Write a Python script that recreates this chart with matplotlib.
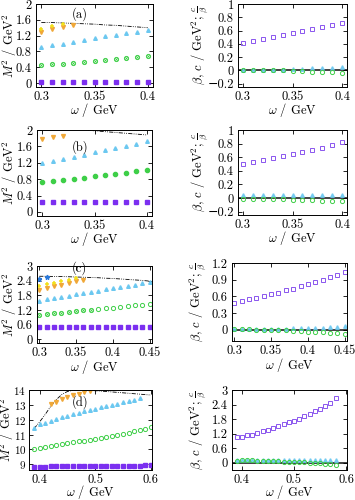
import matplotlib
matplotlib.use("Agg")
import matplotlib.pyplot as plt
import numpy as np

plt.rcParams['font.family'] = 'serif'
plt.rcParams['font.serif'] = ['cmr10', 'DejaVu Serif']
plt.rcParams['mathtext.fontset'] = 'cm'
plt.rcParams['axes.formatter.use_mathtext'] = True
plt.rcParams['axes.unicode_minus'] = False
plt.rcParams['font.size'] = 9

FS = 9

# ---------------- data ----------------
# panel (a)
w_a = [0.30, 0.31, 0.32, 0.33, 0.34, 0.35, 0.36, 0.37, 0.38, 0.39, 0.40]
sq_a = [0.03, 0.03, 0.03, 0.03, 0.03, 0.03, 0.03, 0.03, 0.03, 0.03, 0.03]
circ_a = [0.45, 0.47, 0.49, 0.51, 0.53, 0.56, 0.58, 0.61, 0.63, 0.66, 0.69]
tri_a = [0.90, 0.95, 1.00, 1.05, 1.10, 1.14, 1.18, 1.22, 1.26, 1.30, 1.34]
w_a_org = [0.30, 0.31, 0.32, 0.33]
org_a = [1.30, 1.36, 1.41, 1.46]
w_a_yel = [0.30, 0.31, 0.32]
yel_a = [1.37, 1.44, 1.49]
line_a = [1.53, 1.53, 1.52, 1.51, 1.50, 1.49, 1.47, 1.46, 1.44, 1.42, 1.40]
beta_a = [0.42, 0.45, 0.48, 0.50, 0.53, 0.56, 0.59, 0.62, 0.65, 0.68, 0.72]
tc_a = [0.01, 0.01, 0.01, 0.01, 0.01, 0.02, 0.02, 0.03, 0.03, 0.04, 0.05]
gc_a = [0.01, 0.01, 0.01, 0.00, 0.00, -0.01, -0.01, -0.02, -0.02, -0.03, -0.04]

# panel (b)
w_b = [0.30, 0.31, 0.32, 0.33, 0.34, 0.35, 0.36, 0.37, 0.38, 0.39, 0.40]
sq_b = [0.25, 0.25, 0.25, 0.25, 0.25, 0.25, 0.25, 0.25, 0.25, 0.25, 0.25]
circ_b = [0.73, 0.76, 0.79, 0.81, 0.84, 0.87, 0.90, 0.93, 0.96, 0.99, 1.02]
tri_b = [1.19, 1.25, 1.30, 1.35, 1.40, 1.46, 1.51, 1.56, 1.62, 1.67, 1.72]
w_b_org = [0.30, 0.31, 0.32]
org_b = [1.78, 1.83, 1.86]
line_b = [2.07, 2.06, 2.05, 2.03, 2.01, 1.98, 1.96, 1.94, 1.92, 1.90, 1.88]
beta_b = [0.50, 0.53, 0.56, 0.59, 0.62, 0.65, 0.68, 0.71, 0.74, 0.78, 0.82]
tc_b = [0.05, 0.05, 0.05, 0.05, 0.05, 0.05, 0.05, 0.05, 0.05, 0.05, 0.05]
gc_b = [-0.02, -0.02, -0.02, -0.02, -0.02, -0.03, -0.03, -0.03, -0.04, -0.04, -0.05]

# panel (c)
w_c = [0.30, 0.31, 0.32, 0.33, 0.34, 0.35, 0.36, 0.37, 0.38, 0.39, 0.40,
       0.41, 0.42, 0.43, 0.44, 0.45]
sq_c = [0.49] * 16
circ_c = [1.00, 1.03, 1.06, 1.09, 1.12, 1.15, 1.18, 1.21, 1.24, 1.27, 1.30,
          1.33, 1.36, 1.39, 1.42, 1.46]
tri_c = [1.58, 1.63, 1.68, 1.73, 1.78, 1.84, 1.89, 1.94, 1.99, 2.04, 2.09,
         2.14, 2.19, 2.24, 2.29, 2.34]
w_c_org = [0.30, 0.31, 0.32, 0.33, 0.34, 0.35, 0.36]
org_c = [2.02, 2.11, 2.17, 2.23, 2.30, 2.37, 2.43]
w_c_yel = [0.30, 0.31, 0.32, 0.33, 0.34, 0.35]
yel_c = [2.20, 2.27, 2.32, 2.38, 2.44, 2.50]
w_c_blu = [0.30, 0.31]
blu_c = [2.45, 2.56]
line_c = [2.58, 2.58, 2.57, 2.57, 2.56, 2.55, 2.54, 2.53, 2.52, 2.50, 2.49,
          2.47, 2.45, 2.43, 2.41, 2.38]
beta_c = [0.49, 0.52, 0.55, 0.58, 0.61, 0.64, 0.67, 0.71, 0.74, 0.78, 0.82,
          0.86, 0.90, 0.94, 0.98, 1.04]
tc_c = [0.02, 0.02, 0.02, 0.02, 0.02, 0.02, 0.02, 0.02, 0.03, 0.03, 0.03,
        0.04, 0.04, 0.05, 0.06, 0.07]
gc_c = [0.01, 0.01, 0.01, 0.00, 0.00, 0.00, -0.01, -0.01, -0.02, -0.02, -0.03,
        -0.04, -0.04, -0.05, -0.06, -0.08]

# panel (d)
w_d = [0.39, 0.40, 0.41, 0.42, 0.43, 0.44, 0.45, 0.46, 0.47, 0.48, 0.49,
       0.50, 0.51, 0.52, 0.53, 0.54, 0.55, 0.56, 0.57, 0.58, 0.59, 0.60]
sq_d = [8.85, 8.85, 8.85, 8.86, 8.86, 8.86, 8.87, 8.87, 8.87, 8.88, 8.88,
        8.88, 8.89, 8.89, 8.90, 8.90, 8.91, 8.91, 8.92, 8.92, 8.93, 8.93]
circ_d = [10.05, 10.12, 10.18, 10.24, 10.30, 10.36, 10.42, 10.48, 10.54,
          10.60, 10.66, 10.72, 10.79, 10.86, 10.93, 11.00, 11.07, 11.14,
          11.22, 11.30, 11.40, 11.52]
w_d_tri = [0.39, 0.40, 0.41, 0.42, 0.43, 0.44, 0.45, 0.46, 0.47, 0.48, 0.49,
           0.50, 0.51, 0.52, 0.53, 0.54, 0.55, 0.56, 0.57, 0.58]
tri_d = [11.47, 11.69, 11.80, 11.91, 12.05, 12.16, 12.27, 12.36, 12.48,
         12.57, 12.63, 12.74, 12.83, 12.92, 13.01, 13.08, 13.17, 13.26,
         13.35, 13.44]
w_d_org = [0.42, 0.43, 0.44, 0.45, 0.46, 0.47, 0.48, 0.49]
org_d = [13.04, 13.20, 13.37, 13.53, 13.66, 13.75, 13.84, 13.93]
w_d_line = [0.39, 0.40, 0.41, 0.42, 0.43, 0.44, 0.45, 0.46, 0.47, 0.48,
            0.49, 0.50, 0.52, 0.54, 0.56, 0.58, 0.60]
line_d = [11.40, 11.85, 12.35, 12.90, 13.35, 13.70, 13.90, 13.98, 14.00,
          14.00, 13.98, 13.95, 13.90, 13.84, 13.78, 13.72, 13.66]
beta_d = [1.05, 1.07, 1.13, 1.16, 1.23, 1.30, 1.35, 1.44, 1.51, 1.58, 1.67,
          1.74, 1.81, 1.91, 1.99, 2.13, 2.23, 2.36, 2.48, 2.65]
tc_d = [0.10, 0.10, 0.10, 0.10, 0.10, 0.10, 0.10, 0.10, 0.10, 0.10, 0.10,
        0.10, 0.10, 0.10, 0.10, 0.10, 0.10, 0.10, 0.11, 0.11]
gc_d = [0.09, 0.10, 0.10, 0.10, 0.09, 0.09, 0.08, 0.07, 0.06, 0.05, 0.04,
        0.03, 0.02, 0.01, 0.00, -0.02, -0.03, -0.05, -0.07, -0.09]

# ---------------- style ----------------
C_SQ = '#7b2ff0'
C_TRI = '#6cc8f0'
C_CIRC = '#3ecf48'
C_ORG = '#f0a838'
C_YEL = '#f2e01a'
C_BLU = '#2a78d8'
C_BETA = '#8a55ee'

W, H = 355, 500
fig = plt.figure(figsize=(W / 100, H / 100), dpi=100)


def add_ax(x0, y0, x1, y1):
    return fig.add_axes([x0 / W, 1 - y1 / H, (x1 - x0) / W, (y1 - y0) / H])


def style(ax, ylab, ylab_px, xlab_px=23.5, ypad=3, ysize=FS):
    ax.tick_params(direction='in', top=True, right=True, length=3, width=0.6,
                   labelsize=FS, pad=2.5)
    ax.tick_params(axis='y', pad=ypad, labelsize=ysize)
    for s in ax.spines.values():
        s.set_linewidth(0.7)
    bb = ax.get_position()
    wpx = bb.width * W
    hpx = bb.height * H
    ax.set_xlabel(r'$\omega$ / GeV', fontsize=FS, va='center')
    ax.xaxis.set_label_coords(0.5, -xlab_px / hpx)
    ax.set_ylabel(ylab, fontsize=FS, va='center')
    ax.yaxis.set_label_coords(-ylab_px / wpx, 0.5)


MS_SQ = 2.5
MS_TRI = 2.6
MS_CIRC = 3.0
MS_ORG = 2.8
ls_dd = (0, (5, 1.5, 1, 1.5, 1, 1.5))

# ===== axes =====
axes_left = [add_ax(36, 4, 153, 87), add_ax(37, 130, 152, 216),
             add_ax(37, 266, 152, 343), add_ax(29, 390, 152, 470)]
axes_right = [add_ax(238, 4, 347, 87), add_ax(238, 130, 347, 215),
              add_ax(232, 263, 347, 341), add_ax(232, 390, 347, 470)]

# (a)
ax = axes_left[0]
ax.plot(w_a, line_a, color='k', lw=0.6, ls=ls_dd)
ax.plot(w_a, sq_a, 's', color=C_SQ, ms=MS_SQ)
ax.plot(w_a, circ_a, 'o', mfc='none', mec=C_CIRC, ms=MS_CIRC, mew=0.7)
ax.plot(w_a, circ_a, 'x', color=C_CIRC, ms=MS_CIRC - 1.2, mew=0.6)
ax.plot(w_a, tri_a, '^', color=C_TRI, ms=MS_TRI)
ax.plot(w_a_org, org_a, 'v', color=C_ORG, ms=MS_ORG)
ax.plot(w_a_yel, yel_a, '+', color=C_YEL, ms=MS_ORG, mew=1.1)
ax.text(0.336, 1.74, '(a)', ha='center', va='center', fontsize=FS)
ax.set_xlim(0.295, 0.405)
ax.set_ylim(-0.1, 2.0)
ax.set_xticks([0.3, 0.35, 0.4])
ax.set_xticklabels(['0.3', '0.35', '0.4'])
ax.set_yticks([0, 0.4, 0.8, 1.2, 1.6, 2])
ax.set_yticklabels(['0', '0.4', '0.8', '1.2', '1.6', '2'])

# (b)
ax = axes_left[1]
ax.plot(w_b, line_b, color='k', lw=0.6, ls=ls_dd)
ax.plot(w_b, sq_b, 's', color=C_SQ, ms=MS_SQ)
ax.plot(w_b, circ_b, 'o', color=C_CIRC, ms=MS_CIRC)
ax.plot(w_b, tri_b, '^', color=C_TRI, ms=MS_TRI)
ax.plot(w_b_org, org_b, 'v', color=C_ORG, ms=MS_ORG)
ax.text(0.336, 1.59, '(b)', ha='center', va='center', fontsize=FS)
ax.set_xlim(0.295, 0.405)
ax.set_ylim(-0.1, 2.0)
ax.set_xticks([0.3, 0.35, 0.4])
ax.set_xticklabels(['0.3', '0.35', '0.4'])
ax.set_yticks([0, 0.4, 0.8, 1.2, 1.6, 2])
ax.set_yticklabels(['0', '0.4', '0.8', '1.2', '1.6', '2'])

# (c)
ax = axes_left[2]
ax.plot(w_c, line_c, color='k', lw=0.6, ls=ls_dd)
ax.plot(w_c, sq_c, 's', color=C_SQ, ms=MS_SQ)
ax.plot(w_c, circ_c, 'o', mfc='none', mec=C_CIRC, ms=MS_CIRC, mew=0.7)
ax.plot(w_c[:8], circ_c[:8], 'x', color=C_CIRC, ms=MS_CIRC - 1.2, mew=0.6)
ax.plot(w_c, tri_c, '^', color=C_TRI, ms=MS_TRI)
ax.plot(w_c_org, org_c, 'v', color=C_ORG, ms=MS_ORG)
ax.plot(w_c_yel, yel_c, '+', color=C_YEL, ms=MS_ORG, mew=1.1)
ax.plot(w_c_blu, blu_c, '*', color=C_BLU, ms=MS_ORG + 0.6)
ax.text(0.354, 2.9, '(c)', ha='center', va='center', fontsize=FS)
ax.set_xlim(0.297, 0.453)
ax.set_ylim(-0.15, 3.0)
ax.set_xticks([0.3, 0.35, 0.4, 0.45])
ax.set_xticklabels(['0.3', '0.35', '0.4', '0.45'])
ax.set_yticks([0, 0.6, 1.2, 1.8, 2.4, 3])
ax.set_yticklabels(['0', '0.6', '1.2', '1.8', '2.4', '3'])

# (d)
ax = axes_left[3]
ax.plot(w_d_line, line_d, color='k', lw=0.6, ls=ls_dd)
ax.plot(w_d, sq_d, 's', color=C_SQ, ms=MS_SQ)
ax.plot(w_d, circ_d, 'o', mfc='none', mec=C_CIRC, ms=MS_CIRC, mew=0.7)
ax.plot(w_d_tri, tri_d, '^', color=C_TRI, ms=MS_TRI)
ax.plot(w_d_org, org_d, 'v', color=C_ORG, ms=MS_ORG)
ax.text(0.472, 13.2, '(d)', ha='center', va='center', fontsize=FS)
ax.set_xlim(0.381, 0.602)
ax.set_ylim(8.62, 14.0)
ax.set_xticks([0.4, 0.5, 0.6])
ax.set_xticklabels(['0.4', '0.5', '0.6'])
ax.set_yticks([9, 10, 11, 12, 13, 14])

ylab_left = r'$M^2$ / GeV$^2$'
left_lab_px = [26, 27, 27, 22]
left_ypad = [3, 3, 3, 2]
left_ysize = [FS, FS, FS, 8]
left_xlab = [23.5, 23.5, 23.5, 22]
for ax, px, yp, ys, xl in zip(axes_left, left_lab_px, left_ypad,
                              left_ysize, left_xlab):
    style(ax, ylab_left, px, xlab_px=xl, ypad=yp, ysize=ys)

# ===== right panels =====
rdata = [(w_a, beta_a, tc_a, gc_a), (w_b, beta_b, tc_b, gc_b),
         (w_c, beta_c, tc_c, gc_c), (w_d_tri, beta_d, tc_d, gc_d)]
xlims = [(0.295, 0.405), (0.295, 0.405), (0.297, 0.453), (0.381, 0.602)]
ylims = [(-0.25, 1.0), (-0.25, 1.0), (-0.2, 1.2), (-0.3, 3.0)]
yt = [[-0.2, 0, 0.2, 0.4, 0.6, 0.8, 1], [-0.2, 0, 0.2, 0.4, 0.6, 0.8, 1],
      [0, 0.3, 0.6, 0.9, 1.2], [0, 0.6, 1.2, 1.8, 2.4, 3]]
ytl = [['\u22120.2', '0', '0.2', '0.4', '0.6', '0.8', '1'],
       ['\u22120.2', '0', '0.2', '0.4', '0.6', '0.8', '1'],
       ['0', '0.3', '0.6', '0.9', '1.2'],
       ['0', '0.6', '1.2', '1.8', '2.4', '3']]
xt = [[0.3, 0.35, 0.4], [0.3, 0.35, 0.4], [0.3, 0.35, 0.4, 0.45], [0.4, 0.5, 0.6]]
xtl = [['0.3', '0.35', '0.4'], ['0.3', '0.35', '0.4'],
       ['0.3', '0.35', '0.4', '0.45'], ['0.4', '0.5', '0.6']]
right_lab_px = [38, 38, 34, 34]
right_xlab = [23.5, 23.5, 23.5, 22]
ylab_right = r'$\beta$, $c$ / GeV$^2$; $\frac{c}{\beta}$'

for i, ax in enumerate(axes_right):
    w, b, t, g = rdata[i]
    ax.axhline(0, color='#222222', lw=1.2, zorder=1)
    ax.plot(w, b, 's', mfc='none', mec=C_BETA, ms=MS_CIRC, mew=0.7)
    ax.plot(w, t, '^', color=C_TRI, ms=MS_TRI, alpha=0.85)
    ax.plot(w, g, 'o', mfc='none', mec=C_CIRC, ms=MS_CIRC, mew=0.7)
    ax.set_xlim(*xlims[i])
    ax.set_ylim(*ylims[i])
    ax.set_xticks(xt[i])
    ax.set_xticklabels(xtl[i])
    ax.set_yticks(yt[i])
    ax.set_yticklabels(ytl[i], family=['cmr10', 'DejaVu Serif'])
    style(ax, ylab_right, right_lab_px[i], xlab_px=right_xlab[i])

fig.savefig('out.png', dpi=100)
